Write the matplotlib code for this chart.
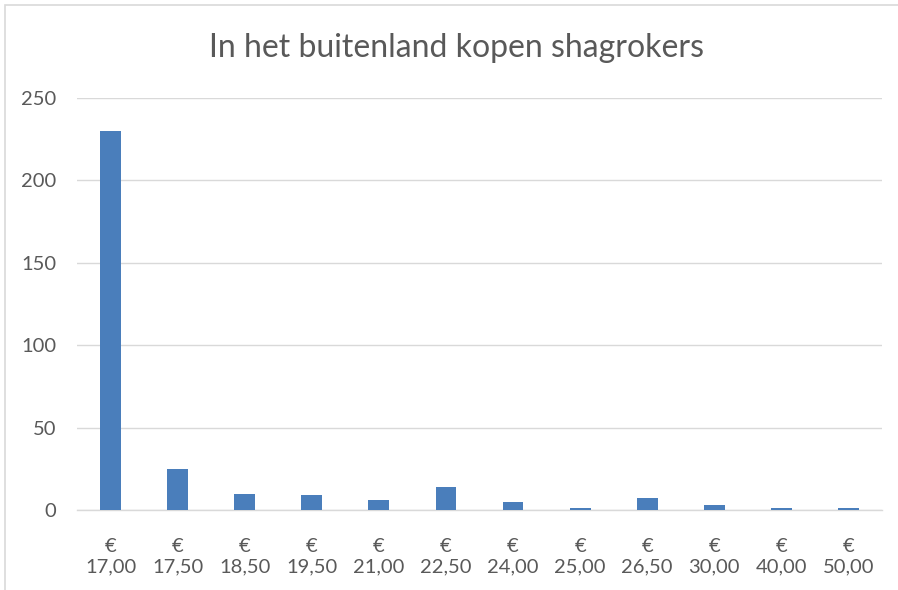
import matplotlib.pyplot as plt
from matplotlib.patches import Rectangle

# Data
prices = ['17,00', '17,50', '18,50', '19,50', '21,00', '22,50',
          '24,00', '25,00', '26,50', '30,00', '40,00', '50,00']
counts = [230, 25, 10, 9, 6, 14, 5, 1, 7, 3, 1, 1]
tick_labels = ['€\n' + p for p in prices]

plt.rcParams['font.family'] = ['Lato', 'DejaVu Sans']

fig = plt.figure(figsize=(8.98, 5.90), dpi=100)
ax = fig.add_axes([77 / 898, 1 - 510 / 590, (882 - 77) / 898, (510 - 98) / 590])

x = range(len(prices))
ax.bar(x, counts, width=0.31, color='#4a7ebb', zorder=3)

ax.set_xlim(-0.5, len(prices) - 0.5)
ax.set_ylim(0, 250)
ax.set_yticks([0, 50, 100, 150, 200, 250])
ax.set_xticks(list(x))
ax.set_xticklabels(tick_labels, linespacing=1.25)
ax.yaxis.grid(True, color='#d9d9d9', linewidth=1, zorder=0)
for s in ['top', 'right', 'left']:
    ax.spines[s].set_visible(False)
ax.spines['bottom'].set_color('#d9d9d9')
ax.spines['bottom'].set_linewidth(1)
ax.tick_params(axis='both', length=0, colors='#595959', labelsize=14.5)
ax.tick_params(axis='x', pad=20)
ax.tick_params(axis='y', pad=15)

fig.text(457 / 898, 1 - 48 / 590, 'In het buitenland kopen shagrokers',
         ha='center', va='center', fontsize=23, color='#595959')

# outer chart frame (cut off at right and bottom)
fig.patches.append(Rectangle((5 / 898, -0.1), 1.1, 1 - 5 / 590 + 0.1,
                             transform=fig.transFigure, fill=False,
                             edgecolor='#d9d9d9', linewidth=1.2))

fig.savefig('out.png', dpi=100)
